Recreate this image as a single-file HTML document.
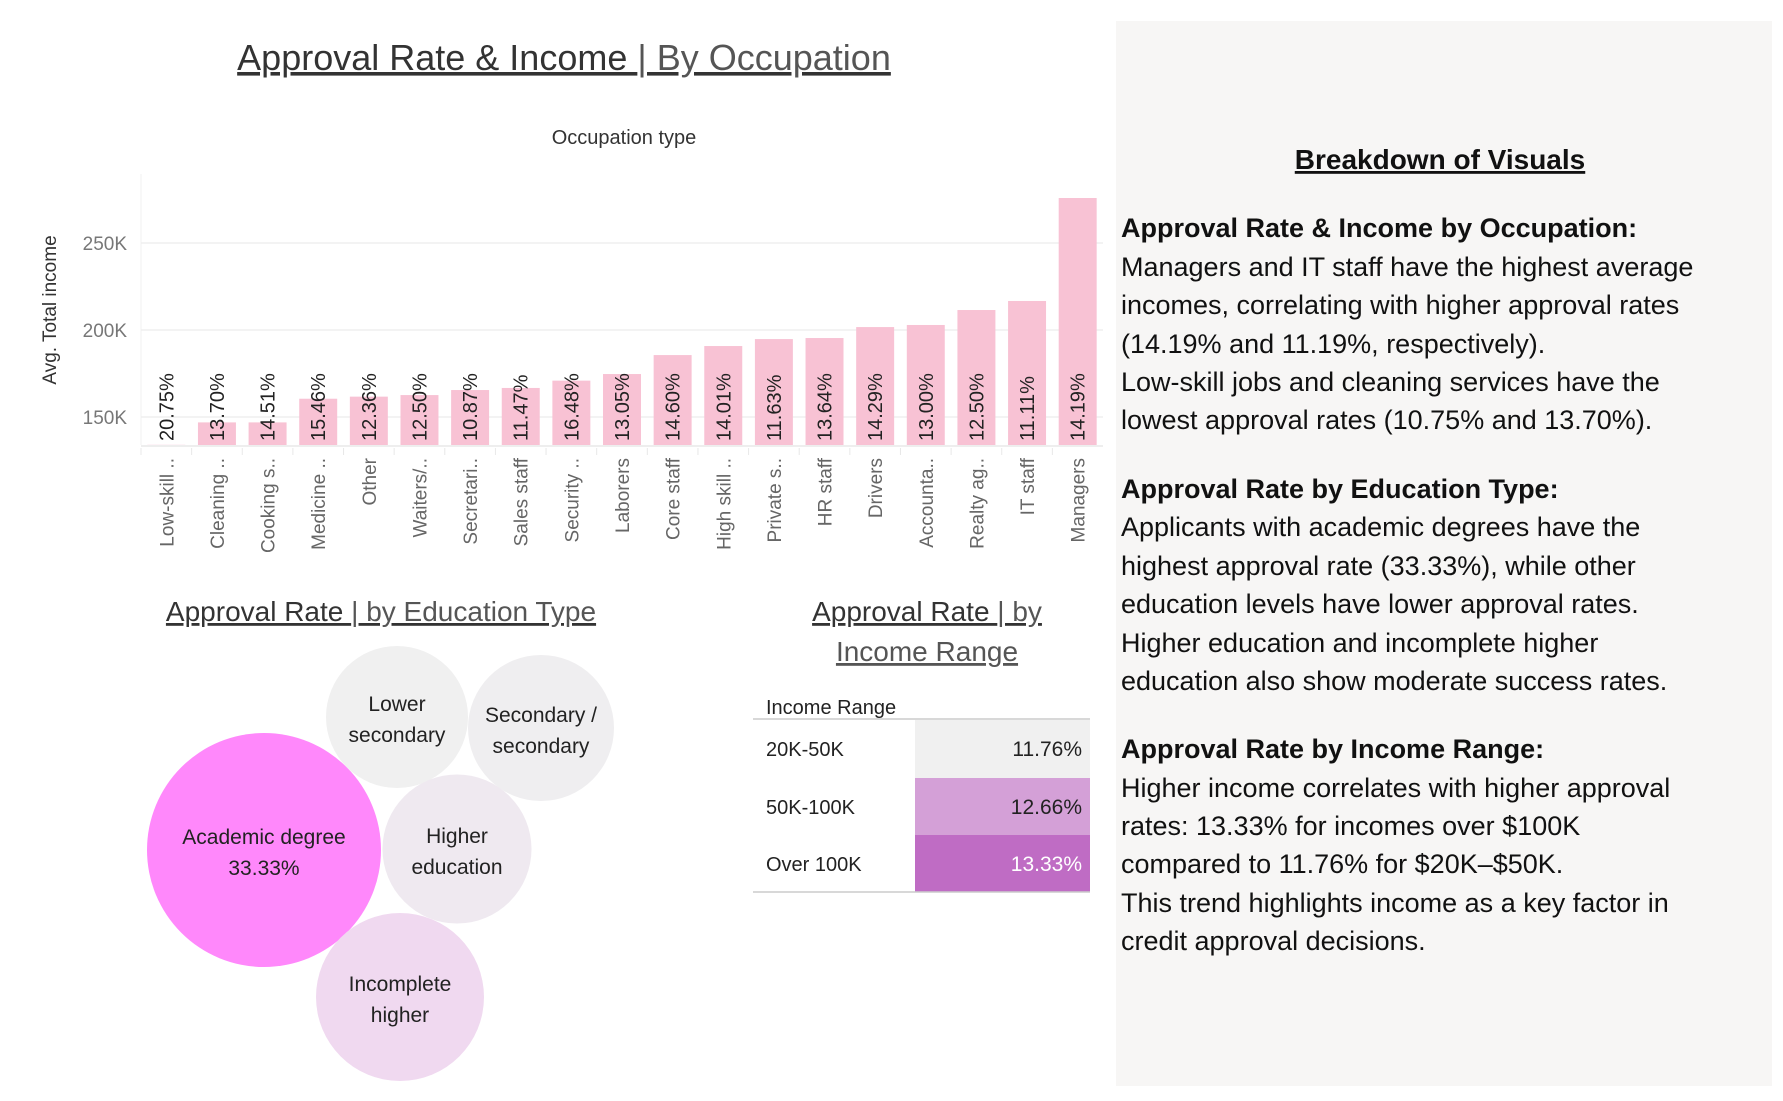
<!DOCTYPE html>
<html><head><meta charset="utf-8"><style>
html,body{margin:0;padding:0;background:#fff;}
svg{display:block;font-family:"Liberation Sans",sans-serif;}
</style></head><body>
<svg id="root" width="1783" height="1101" viewBox="0 0 1783 1101">
  <text x="564" y="70" text-anchor="middle" font-size="36" fill="#333" text-decoration="underline">Approval Rate &amp; Income <tspan fill="#555">| By Occupation</tspan></text>
  <text x="624" y="144" text-anchor="middle" font-size="20" fill="#333">Occupation type</text>
  <text transform="translate(56,310) rotate(-90)" text-anchor="middle" font-size="19" fill="#333">Avg. Total income</text>
  <g id="chart"></g>

  <rect x="1116" y="21" width="656" height="1065" fill="#f7f6f5"/>
  <text x="1440" y="169" text-anchor="middle" font-size="28" font-weight="bold" fill="#111" text-decoration="underline">Breakdown of Visuals</text>
  <g font-size="27" fill="#111">
    <text x="1121" y="237" font-weight="bold">Approval Rate &amp; Income by Occupation:</text>
    <text x="1121" y="276">Managers and IT staff have the highest average</text>
    <text x="1121" y="314">incomes, correlating with higher approval rates</text>
    <text x="1121" y="353">(14.19% and 11.19%, respectively).</text>
    <text x="1121" y="391">Low-skill jobs and cleaning services have the</text>
    <text x="1121" y="429">lowest approval rates (10.75% and 13.70%).</text>
    <text x="1121" y="498" font-weight="bold">Approval Rate by Education Type:</text>
    <text x="1121" y="536">Applicants with academic degrees have the</text>
    <text x="1121" y="575">highest approval rate (33.33%), while other</text>
    <text x="1121" y="613">education levels have lower approval rates.</text>
    <text x="1121" y="652">Higher education and incomplete higher</text>
    <text x="1121" y="690">education also show moderate success rates.</text>
    <text x="1121" y="758" font-weight="bold">Approval Rate by Income Range:</text>
    <text x="1121" y="797">Higher income correlates with higher approval</text>
    <text x="1121" y="835">rates: 13.33% for incomes over $100K</text>
    <text x="1121" y="873">compared to 11.76% for $20K–$50K.</text>
    <text x="1121" y="912">This trend highlights income as a key factor in</text>
    <text x="1121" y="950">credit approval decisions.</text>
  </g>

  <text x="381" y="621" text-anchor="middle" font-size="28" fill="#333" text-decoration="underline">Approval Rate <tspan fill="#555">| by Education Type</tspan></text>
  <g id="bubbles"></g>

  <text x="927" y="621" text-anchor="middle" font-size="28" fill="#333" text-decoration="underline">Approval Rate <tspan fill="#555">| by</tspan></text>
  <text x="927" y="661" text-anchor="middle" font-size="28" fill="#555" text-decoration="underline">Income Range</text>
  <g id="table"></g>
</svg>
<script>
const categories=["Low-skill ..","Cleaning ..","Cooking s..","Medicine ..","Other","Waiters/..","Secretari..","Sales staff","Security ..","Laborers","Core staff","High skill ..","Private s..","HR staff","Drivers","Accounta..","Realty ag..","IT staff","Managers"];
const incomes=[134000,146900,146900,160500,161700,162600,165500,166700,170900,174700,185600,190800,194800,195400,201700,202900,211500,216700,275900];
const rates=["20.75%","13.70%","14.51%","15.46%","12.36%","12.50%","10.87%","11.47%","16.48%","13.05%","14.60%","14.01%","11.63%","13.64%","14.29%","13.00%","12.50%","11.11%","14.19%"];
const yTicks=[150000,200000,250000];
const yTickLabels=["150K","200K","250K"];

const eduNames=[["Academic degree","33.33%"],["Lower","secondary"],["Secondary /","secondary"],["Higher","education"],["Incomplete","higher"]];
const eduRates=[33.33,11.0,11.6,12.0,15.0];

const incomeRanges=["20K-50K","50K-100K","Over 100K"];
const incomeRates=[11.76,12.66,13.33];

const NS="http://www.w3.org/2000/svg";
function mk(tag,attrs,parent){const e=document.createElementNS(NS,tag);for(const k in attrs)e.setAttribute(k,attrs[k]);parent.appendChild(e);return e;}

const chart=document.getElementById('chart');
const PL=141,PR=1103,PT=174,PB=445,YMIN=133900,YMAX=289700;
const band=(PR-PL)/categories.length;
function xC(i){return PL+band*(i+0.5);}
function yS(v){return PB-(v-YMIN)/(YMAX-YMIN)*(PB-PT);}
mk('line',{x1:PL,y1:PT,x2:PL,y2:PB,stroke:'#f0f0f0','stroke-width':1},chart);
yTicks.forEach((t,i)=>{
  const gl=mk('line',{x1:PL,y1:yS(t),x2:PR,y2:yS(t),stroke:'#efefef','stroke-width':1.5},chart);
  
  
  const tl=mk('text',{x:127,y:yS(t)+7,'text-anchor':'end','font-size':19,fill:'#777'},chart);
  tl.textContent=yTickLabels[i];
  
  
});
mk('line',{x1:PL,y1:PB+1,x2:PR,y2:PB+1,stroke:'#eee','stroke-width':2},chart);
categories.forEach((c,i)=>{
  const cx=xC(i),bw=band*0.75;
  const top=yS(incomes[i]);
  const b=mk('rect',{x:cx-bw/2,y:top,width:bw,height:Math.max(0,PB-top),fill:'#f8c2d4'},chart);
  
  
  const tk=mk('line',{x1:PL+band*i,y1:PB+3,x2:PL+band*i,y2:PB+10,stroke:'#e8e8e8'},chart);
  
  
  const rl=mk('text',{transform:`translate(${cx+7},441) rotate(-90)`,'font-size':20,fill:'#222'},chart);
  rl.textContent=rates[i];
  
  
  const cl=mk('text',{transform:`translate(${cx+7},458) rotate(-90)`,'text-anchor':'end','font-size':19,fill:'#666'},chart);
  cl.textContent=c;
  
  
});

const bub=document.getElementById('bubbles');
const bpos=[[264,850],[397,717],[541,728],[457,849],[400,997]];
const bcol=['#ff88fb','#f0f0f0','#efeef0','#efe9f0','#f0d9f0'];
const baseR=[117,71,73,74.5,84];
eduRates.forEach((r,i)=>{
  const rr=baseR[i]*Math.sqrt(r/[33.33,11.0,11.6,12.0,15.0][i]);
  const c=mk('circle',{cx:bpos[i][0],cy:bpos[i][1],r:rr,fill:bcol[i]},bub);
  
  
  eduNames[i].forEach((ln,j)=>{
    const t=mk('text',{x:bpos[i][0],y:bpos[i][1]-6+j*31,'text-anchor':'middle','font-size':21,fill:'#222'},bub);
    t.textContent=ln;
    
    
  });
});

const tb=document.getElementById('table');
const ht=mk('text',{x:766,y:714,'font-size':20,fill:'#222'},tb);
ht.textContent='Income Range';


mk('line',{x1:753,y1:719,x2:1090,y2:719,stroke:'#ccc','stroke-width':1.5},tb);
const rowY=[720,778,835],rowH=[58,57,57];
const minR=Math.min(...incomeRates),maxRt=Math.max(...incomeRates);
function shade(v){const t=(v-minR)/(maxRt-minR);const a=[240,240,240],b=[191,108,196];
  return `rgb(${Math.round(a[0]+(b[0]-a[0])*t)},${Math.round(a[1]+(b[1]-a[1])*t)},${Math.round(a[2]+(b[2]-a[2])*t)})`;}
incomeRanges.forEach((r,i)=>{
  const cell=mk('rect',{x:915,y:rowY[i],width:175,height:rowH[i],fill:i===1?'#d4a0d7':shade(incomeRates[i])},tb);
  
  
  const l=mk('text',{x:766,y:rowY[i]+36,'font-size':20,fill:'#222'},tb);
  l.textContent=r;
  
  
  const v=mk('text',{x:1082,y:rowY[i]+36,'text-anchor':'end','font-size':21,fill:i===2?'#fff':'#222'},tb);
  v.textContent=incomeRates[i].toFixed(2)+'%';
  
  
});
mk('line',{x1:753,y1:892,x2:1090,y2:892,stroke:'#ccc','stroke-width':1.5},tb);
</script>
</body></html>
